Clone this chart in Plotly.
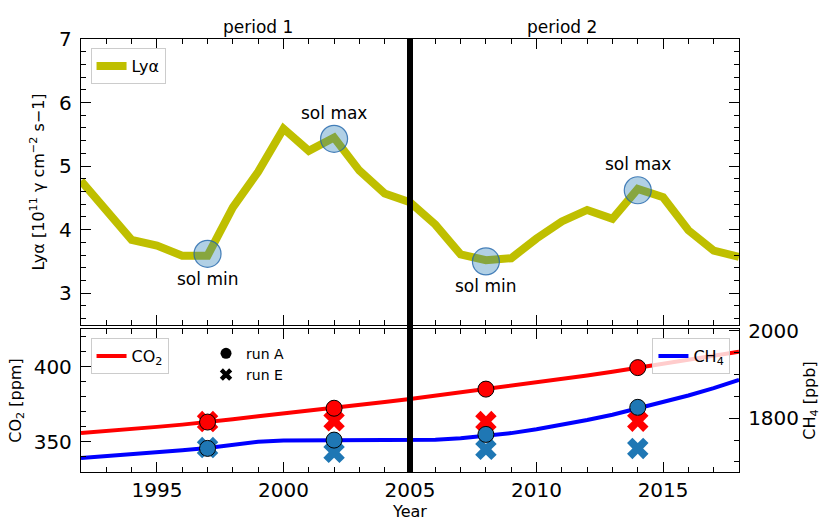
import plotly.graph_objects as go

# ---------------- data ----------------
years = list(range(1992, 2019))
lya = [4.77, 4.31, 3.84, 3.75, 3.59, 3.59, 4.35, 4.91, 5.59, 5.24, 5.45, 4.93, 4.57,
       4.43, 4.08, 3.61, 3.52, 3.55, 3.86, 4.13, 4.31, 4.17, 4.64, 4.51, 3.99, 3.67, 3.57]
co2 = [356.0, 357.2, 358.6, 360.0, 361.5, 363.0, 365.0, 367.0, 368.8, 370.5, 372.5, 374.5,
       376.5, 378.5, 380.7, 382.8, 385.0, 387.2, 389.5, 391.8, 394.2, 396.7, 399.3, 401.8,
       404.5, 407.2, 410.0]
ch4 = [1709, 1713, 1717, 1722, 1727, 1732, 1740, 1746, 1749, 1749, 1750, 1751, 1751,
       1750, 1751, 1754, 1759, 1766, 1775, 1785, 1796, 1808, 1822, 1837, 1852, 1869, 1888]

event_years = [1997, 2002, 2008, 2014]
event_lya = [3.62, 5.43, 3.50, 4.62]
event_labels = ["sol min", "sol max", "sol min", "sol max"]

co2_runA = [363.2, 372.4, 385.1, 399.4]
ch4_runA = [1731, 1750, 1763, 1825]
co2_runE = [363.5, 364.0, 363.5, 363.8]
ch4_runE = [1733, 1722, 1729, 1731]

period_x = [1999, 2011]
period_labels = ["period 1", "period 2"]
split_year = 2005

# ---------------- style ----------------
FONT = "DejaVu Sans"
OLIVE = "#bfbf00"
RED = "#ff0000"
BLUE = "#0000ff"
CBLUE = "#1f77b4"

fig = go.Figure()

fig.add_trace(go.Scatter(x=years, y=lya, mode="lines", name="Lyα",
                         line=dict(color=OLIVE, width=8), xaxis="x", yaxis="y",
                         legend="legend"))
fig.add_trace(go.Scatter(x=event_years, y=event_lya, mode="markers", showlegend=False,
                         marker=dict(size=27, color="rgba(31,119,180,0.35)",
                                     line=dict(color="rgba(31,100,170,0.8)", width=1.2)),
                         xaxis="x", yaxis="y"))

# bottom panel: CO2 (left axis)
fig.add_trace(go.Scatter(x=years, y=co2, mode="lines", name="CO<sub>2</sub>",
                         line=dict(color=RED, width=4), xaxis="x2", yaxis="y2",
                         legend="legend2"))
fig.add_trace(go.Scatter(x=event_years, y=co2_runE, mode="markers", showlegend=False,
                         marker=dict(symbol="x", size=19, color=RED, line=dict(width=0)),
                         xaxis="x2", yaxis="y2"))
fig.add_trace(go.Scatter(x=event_years, y=co2_runA, mode="markers", showlegend=False,
                         marker=dict(symbol="circle", size=16, color=RED,
                                     line=dict(color="black", width=1)),
                         xaxis="x2", yaxis="y2"))

# bottom panel: CH4 (right axis)
fig.add_trace(go.Scatter(x=years, y=ch4, mode="lines", name="CH<sub>4</sub>",
                         line=dict(color=BLUE, width=4), xaxis="x2", yaxis="y3",
                         legend="legend4"))
fig.add_trace(go.Scatter(x=event_years, y=ch4_runE, mode="markers", showlegend=False,
                         marker=dict(symbol="x", size=19, color=CBLUE, line=dict(width=0)),
                         xaxis="x2", yaxis="y3"))
fig.add_trace(go.Scatter(x=event_years, y=ch4_runA, mode="markers", showlegend=False,
                         marker=dict(symbol="circle", size=16, color=CBLUE,
                                     line=dict(color="black", width=1)),
                         xaxis="x2", yaxis="y3"))

# legend-only entries for run A / run E
fig.add_trace(go.Scatter(x=[None], y=[None], mode="markers", name="run A",
                         marker=dict(symbol="circle", size=11, color="black"),
                         xaxis="x2", yaxis="y2", legend="legend3"))
fig.add_trace(go.Scatter(x=[None], y=[None], mode="markers", name="run E",
                         marker=dict(symbol="x", size=11, color="black", line=dict(width=0)),
                         xaxis="x2", yaxis="y2", legend="legend3"))

# ---------------- axes ----------------
tickfont = dict(family=FONT, size=20, color="black")
common = dict(showline=True, linecolor="black", linewidth=1.3, ticks="inside",
              ticklen=10, tickwidth=1.2, tickcolor="black", showgrid=False,
              zeroline=False, tickfont=tickfont, ticklabelstandoff=4, automargin=False)

xcommon = dict(common, range=[1992, 2018], dtick=5, tick0=1990, mirror="ticks",
               ticklabelstandoff=0,
               minor=dict(ticks="inside", ticklen=5, dtick=1, tickcolor="black",
                          tickwidth=1.2, showgrid=False))

fig.update_layout(
    xaxis=dict(xcommon, domain=[0, 1], anchor="y", showticklabels=False),
    yaxis=dict(common, domain=[0.3395, 1], range=[2.5, 7], dtick=1, mirror="ticks",
               anchor="x",
               minor=dict(ticks="inside", ticklen=5, dtick=0.2, tickcolor="black",
                          tickwidth=1.2, showgrid=False),
               title=dict(text="Lyα [10<sup>11</sup> γ cm<sup>−2</sup> s−1]",
                          font=dict(family=FONT, size=16, color="black"), standoff=10)),
    xaxis2=dict(xcommon, domain=[0, 1], anchor="y2",
                title=dict(text="Year", font=dict(family=FONT, size=16, color="black"),
                           standoff=10)),
    yaxis2=dict(common, domain=[0, 0.330], range=[330, 425], dtick=50, tick0=0,
                anchor="x2", mirror=False,
                minor=dict(ticks="inside", ticklen=5, dtick=10, tickcolor="black",
                           tickwidth=1.2, showgrid=False),
                title=dict(text="CO<sub>2</sub> [ppm]",
                           font=dict(family=FONT, size=16, color="black"), standoff=8)),
    yaxis3=dict(common, range=[1677, 2004], dtick=200, tick0=0, overlaying="y2",
                side="right", anchor="x2",
                minor=dict(ticks="inside", ticklen=5, dtick=50, tickcolor="black",
                           tickwidth=1.2, showgrid=False),
                title=dict(text="CH<sub>4</sub> [ppb]",
                           font=dict(family=FONT, size=16, color="black"), standoff=6)),
)

# ---------------- legends ----------------
box = dict(bgcolor="rgba(255,255,255,0.8)", bordercolor="#cccccc", borderwidth=1)
fig.update_layout(
    legend=dict(box, x=0.0145, y=0.979, xanchor="left", yanchor="top",
                font=dict(family=FONT, size=16, color="black")),
    legend2=dict(box, x=0.0145, y=0.3095, xanchor="left", yanchor="top",
                 font=dict(family=FONT, size=16, color="black")),
    legend3=dict(x=0.19, y=0.31, xanchor="left", yanchor="top",
                 bgcolor="rgba(0,0,0,0)", borderwidth=0, tracegroupgap=0,
                 font=dict(family=FONT, size=14, color="black")),
    legend4=dict(box, x=0.987, y=0.3095, xanchor="right", yanchor="top",
                 font=dict(family=FONT, size=16, color="black")),
)

# ---------------- shapes / annotations ----------------
fig.add_shape(type="line", xref="x", yref="paper", x0=split_year, x1=split_year,
              y0=0, y1=1, line=dict(color="black", width=6), layer="above")

for px_, lab in zip(period_x, period_labels):
    fig.add_annotation(x=px_, xref="x", y=1, yref="paper", yanchor="bottom",
                       text=lab, showarrow=False, yshift=0,
                       font=dict(family=FONT, size=17, color="black"))

for ex, ey, lab in zip(event_years, event_lya, event_labels):
    shift = 26 if lab == "sol max" else -25
    fig.add_annotation(x=ex, xref="x", y=ey, yref="y", text=lab, showarrow=False,
                       yshift=shift, font=dict(family=FONT, size=17, color="black"))

fig.update_layout(
    width=821, height=521,
    margin=dict(l=81, r=82, t=39, b=49),
    paper_bgcolor="white", plot_bgcolor="white",
    font=dict(family=FONT, color="black"),
)

fig.write_html("out.html")
